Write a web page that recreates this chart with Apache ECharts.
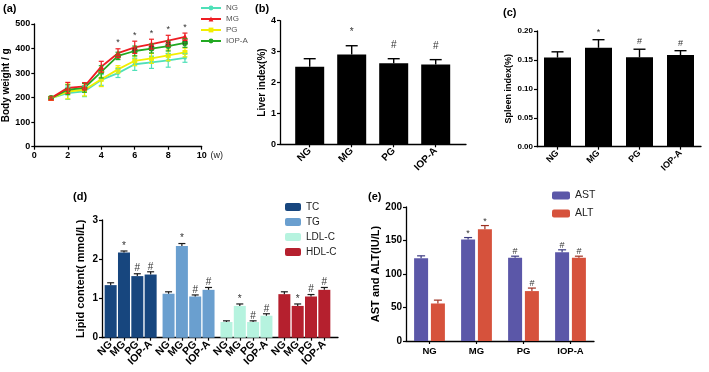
<!DOCTYPE html>
<html>
<head>
<meta charset="utf-8">
<script src="https://cdn.jsdelivr.net/npm/echarts@6/dist/echarts.min.js"></script>
<style>
html, body { margin: 0; padding: 0; background: #fff; }
#main { width: 709px; height: 372px; }
</style>
</head>
<body>
<div id="main"></div>
<script>
// (a) body weight by week
var weeks = [1, 2, 3, 4, 5, 6, 7, 8, 9];
var bwNG = [198, 218, 226, 272, 300, 336, 344, 352, 362];
var bwNGErr = [5, 25, 22, 22, 18, 25, 25, 28, 18];
var bwMG = [198, 240, 246, 326, 381, 405, 418, 432, 448];
var bwMGErr = [5, 22, 15, 22, 18, 25, 20, 22, 15];
var bwPG = [197, 225, 232, 275, 315, 350, 360, 372, 384];
var bwPGErr = [5, 30, 25, 30, 15, 20, 20, 22, 18];
var bwIOP = [198, 232, 240, 305, 370, 390, 400, 410, 423];
var bwIOPErr = [5, 20, 18, 25, 15, 20, 18, 20, 18];
var bwMarkMG = ['', '', '', '', '*', '*', '*', '*', '*'];
var bwMarkPG = ['', '', '', '', '', '#', '#', '#', '#'];

// groups shared by (b)-(e)
var groups = ['NG', 'MG', 'PG', 'IOP-A'];
var groupMarks = ['', '*', '#', '#'];

// (b) liver index
var liver = [2.51, 2.91, 2.62, 2.58];
var liverErr = [0.26, 0.28, 0.15, 0.16];

// (c) spleen index
var spleen = [0.154, 0.171, 0.1545, 0.1585];
var spleenErr = [0.010, 0.014, 0.014, 0.0075];

// (d) lipid content
var lipidNames = ['TC', 'TG', 'LDL-C', 'HDL-C'];
var lipidColors = ['#17467e', '#6a9fcf', '#b6f3df', '#b5202e'];
var lipidVals = [
    [1.34, 2.17, 1.57, 1.61],
    [1.12, 2.34, 1.05, 1.22],
    [0.40, 0.81, 0.40, 0.56],
    [1.11, 0.81, 1.05, 1.22]
];
var lipidErrs = [
    [0.06, 0.04, 0.06, 0.07],
    [0.05, 0.06, 0.04, 0.06],
    [0.03, 0.05, 0.03, 0.05],
    [0.06, 0.05, 0.05, 0.06]
];

// (e) AST / ALT
var ast = [123.6, 151.4, 124.1, 132.6];
var astErr = [3.5, 3, 2.5, 3.5];
var alt = [56, 166.8, 74.5, 124.1];
var altErr = [5, 5.5, 4.5, 2.5];

var FONT = '"Liberation Sans", Arial, sans-serif';
var tickLab = { color: '#000', fontWeight: 'bold', fontSize: 9, fontFamily: FONT, margin: 4 };
var axLine = { show: true, lineStyle: { color: '#000', width: 1.3 } };
var axTick = { show: true, inside: false, length: 3, lineStyle: { color: '#000', width: 1.2 } };
var nameStyle = { color: '#000', fontWeight: 'bold', fontSize: 10, fontFamily: FONT };

function errSeries(xi, yi, xs, vals, errs, marks, color, opt) {
    opt = opt || {};
    return {
        type: 'custom', xAxisIndex: xi, yAxisIndex: yi, z: 5, silent: true,
        data: xs.map(function (x, i) { return [x, vals[i], errs[i]]; }),
        renderItem: function (params, api) {
            var x = api.value(0), v = api.value(1), e = api.value(2);
            var dx = 0;
            if (opt.slot != null) {
                dx = api.barLayout({ barWidth: opt.barWidth, barGap: opt.barGap, count: opt.count })[opt.slot].offsetCenter;
            }
            var top = api.coord([x, v + e]);
            var bot = api.coord([x, opt.both ? v - e : v]);
            var cx = top[0] + dx, w = (opt.cap || 6) / 2;
            var st = { stroke: color, lineWidth: opt.lw || 1.2 };
            var kids = [
                { type: 'line', shape: { x1: cx, y1: bot[1], x2: cx, y2: top[1] }, style: st },
                { type: 'line', shape: { x1: cx - w, y1: top[1], x2: cx + w, y2: top[1] }, style: st }
            ];
            if (opt.both) {
                kids.push({ type: 'line', shape: { x1: cx - w, y1: bot[1], x2: cx + w, y2: bot[1] }, style: st });
            }
            var m = marks && marks[params.dataIndex];
            if (m) {
                kids.push({
                    type: 'text',
                    style: {
                        text: m, x: cx, y: top[1] - (opt.markOff || 6),
                        align: 'center', verticalAlign: 'middle',
                        fill: '#333', font: (opt.markSize || 9) + 'px ' + FONT
                    }
                });
            }
            return { type: 'group', children: kids };
        }
    };
}

function lineSeries(name, vals, color, symbol, size) {
    return {
        name: name, type: 'line', xAxisIndex: 0, yAxisIndex: 0,
        data: weeks.map(function (w, i) { return [w, vals[i]]; }),
        symbol: symbol, symbolSize: size,
        lineStyle: { color: color, width: 1.8 },
        itemStyle: { color: color },
        z: 3
    };
}

function hiddenY(gi, max) {
    return { type: 'value', gridIndex: gi, min: 0, max: max, show: false };
}

function frameX(gi) {
    return {
        type: 'value', gridIndex: gi, min: 0, max: 1,
        axisLine: axLine, axisTick: { show: false }, axisLabel: { show: false }, splitLine: { show: false }
    };
}

function catX(gi, rotate, showLine, size) {
    return {
        type: 'category', gridIndex: gi, data: groups,
        axisLine: showLine ? axLine : { show: false },
        axisTick: { show: true, alignWithLabel: true, length: 3, lineStyle: { color: '#000', width: 1.2 } },
        axisLabel: Object.assign({}, tickLab, { rotate: rotate, interval: 0, margin: 5, fontSize: size })
    };
}

var chart = echarts.init(document.getElementById('main'));

var grids = [
    { left: 34.3, top: 24, width: 167.4, height: 122.7 },     // a
    { left: 280, top: 20.7, width: 186, height: 123.6 },      // b frame
    { left: 288.7, top: 20.7, width: 168, height: 123.6 },    // b bars
    { left: 537, top: 31, width: 164, height: 115.7 },        // c
    { left: 102, top: 220, width: 236, height: 117.7 }        // d frame
];
for (var k = 0; k < 4; k++) {
    grids.push({ left: 104 + 57.9 * k, top: 220, width: 53.3, height: 117.7 }); // d bars
}
grids.push({ left: 406, top: 207, width: 188, height: 134 });  // e
grids.forEach(function (g) { g.outerBoundsMode = 'none'; g.containLabel = false; });

var xAxes = [
    {
        type: 'value', gridIndex: 0, min: 0, max: 10, interval: 2,
        axisLine: axLine, axisTick: axTick, axisLabel: tickLab, splitLine: { show: false },
        name: '(w)', nameLocation: 'end', nameGap: 5,
        nameTextStyle: { color: '#222', fontSize: 9, fontFamily: FONT, verticalAlign: 'top', padding: [4, 0, 0, 0] }
    },
    frameX(1),
    catX(2, 45, false, 10),
    catX(3, 45, true, 9),
    frameX(4)
];
for (k = 0; k < 4; k++) xAxes.push(catX(5 + k, 45, false, 10.5));
xAxes.push(catX(9, 0, true, 9.5));

var yAxes = [
    {
        type: 'value', gridIndex: 0, min: 0, max: 500, interval: 100,
        axisLine: axLine, axisTick: axTick, axisLabel: tickLab, splitLine: { show: false },
        name: 'Body weight / g', nameLocation: 'middle', nameGap: 18, nameTextStyle: nameStyle
    },
    {
        type: 'value', gridIndex: 1, min: 0, max: 4, interval: 1,
        axisLine: axLine, axisTick: axTick, axisLabel: tickLab, splitLine: { show: false },
        name: 'Liver index(%)', nameLocation: 'middle', nameGap: 12, nameTextStyle: nameStyle
    },
    hiddenY(2, 4),
    {
        type: 'value', gridIndex: 3, min: 0, max: 0.2, interval: 0.05,
        axisLine: axLine, axisTick: axTick, splitLine: { show: false },
        axisLabel: Object.assign({}, tickLab, { fontSize: 8, formatter: function (v) { return v.toFixed(2); } }),
        name: 'Spleen index(%)', nameLocation: 'middle', nameGap: 24, nameTextStyle: Object.assign({}, nameStyle, { fontSize: 9 })
    },
    {
        type: 'value', gridIndex: 4, min: 0, max: 3, interval: 1,
        axisLine: axLine, axisTick: axTick, axisLabel: Object.assign({}, tickLab, { fontSize: 10 }), splitLine: { show: false },
        name: 'Lipid content( mmol/L)', nameLocation: 'middle', nameGap: 16, nameTextStyle: Object.assign({}, nameStyle, { fontSize: 11 })
    }
];
for (k = 0; k < 4; k++) yAxes.push(hiddenY(5 + k, 3));
yAxes.push({
    type: 'value', gridIndex: 9, min: 0, max: 200, interval: 50,
    axisLine: axLine, axisTick: axTick, axisLabel: Object.assign({}, tickLab, { fontSize: 10 }), splitLine: { show: false },
    name: 'AST and ALT(IU/L)', nameLocation: 'middle', nameGap: 25, nameTextStyle: Object.assign({}, nameStyle, { fontSize: 11 })
});

var series = [
    lineSeries('NG', bwNG, '#4fe0b8', 'circle', 4),
    lineSeries('PG', bwPG, '#f2ee00', 'rect', 5),
    lineSeries('IOP-A', bwIOP, '#22a922', 'circle', 6),
    lineSeries('MG', bwMG, '#ee1d23', 'triangle', 6),
    errSeries(0, 0, weeks, bwNG, bwNGErr, null, '#4fe0b8', { both: true, cap: 5 }),
    errSeries(0, 0, weeks, bwPG, bwPGErr, bwMarkPG, '#f2ee00', { both: true, cap: 5, markOff: 5 }),
    errSeries(0, 0, weeks, bwIOP, bwIOPErr, null, '#22a922', { both: true, cap: 5 }),
    errSeries(0, 0, weeks, bwMG, bwMGErr, bwMarkMG, '#ee1d23', { both: true, cap: 5, markOff: 6 }),
    // (b)
    { type: 'bar', name: 'Liver index', xAxisIndex: 2, yAxisIndex: 2, data: liver, barWidth: 29, itemStyle: { color: '#000' } },
    errSeries(2, 2, groups, liver, liverErr, groupMarks, '#000', { cap: 12, markOff: 13, lw: 1.4, markSize: 10 }),
    // (c)
    { type: 'bar', name: 'Spleen index', xAxisIndex: 3, yAxisIndex: 3, data: spleen, barWidth: 27, itemStyle: { color: '#000' } },
    errSeries(3, 3, groups, spleen, spleenErr, groupMarks, '#000', { cap: 12, markOff: 7.5, lw: 1.4 })
];
// (d)
lipidNames.forEach(function (n, k) {
    series.push({
        type: 'bar', name: n, xAxisIndex: 5 + k, yAxisIndex: 5 + k,
        data: lipidVals[k], barWidth: 12, itemStyle: { color: lipidColors[k] }
    });
    series.push(errSeries(5 + k, 5 + k, groups, lipidVals[k], lipidErrs[k], groupMarks, '#1b1b1b', { cap: 7, markOff: 5, markSize: 10 }));
});
// (e)
series.push({ type: 'bar', name: 'AST', xAxisIndex: 9, yAxisIndex: 9, data: ast, barWidth: 14, barGap: '20%', itemStyle: { color: '#5b57a8' } });
series.push({ type: 'bar', name: 'ALT', xAxisIndex: 9, yAxisIndex: 9, data: alt, barWidth: 14, barGap: '20%', itemStyle: { color: '#d6523c' } });
series.push(errSeries(9, 9, groups, ast, astErr, groupMarks, '#3c3a80', { cap: 8, markOff: 4.5, slot: 0, count: 2, barWidth: 14, barGap: '20%' }));
series.push(errSeries(9, 9, groups, alt, altErr, groupMarks, '#9e3020', { cap: 8, markOff: 4.5, slot: 1, count: 2, barWidth: 14, barGap: '20%' }));

var panelTitle = function (t, l, tp) {
    return { text: t, left: l, top: tp, padding: 0, textStyle: { color: '#000', fontSize: 11, fontWeight: 'bold', fontFamily: FONT } };
};

var option = {
    backgroundColor: '#fff',
    animation: false,
    title: [
        panelTitle('(a)', 3, 3),
        panelTitle('(b)', 255, 3),
        panelTitle('(c)', 503, 7),
        panelTitle('(d)', 73, 191),
        panelTitle('(e)', 368, 191)
    ],
    legend: [
        {
            data: ['NG', 'MG', 'PG', 'IOP-A'], orient: 'vertical', left: 200, top: 4,
            itemWidth: 20, itemHeight: 6, itemGap: 3, padding: 0,
            textStyle: { color: '#555', fontSize: 8, fontFamily: FONT, lineHeight: 8 }
        },
        {
            data: lipidNames, orient: 'vertical', left: 285, top: 202,
            itemWidth: 16, itemHeight: 8, itemGap: 5, padding: 0,
            textStyle: { color: '#222', fontSize: 10, fontFamily: FONT }
        },
        {
            data: ['AST', 'ALT'], orient: 'vertical', left: 552, top: 190,
            itemWidth: 18, itemHeight: 8, itemGap: 7, padding: 0,
            textStyle: { color: '#222', fontSize: 10.5, fontFamily: FONT }
        }
    ],
    grid: grids,
    xAxis: xAxes,
    yAxis: yAxes,
    series: series
};

chart.setOption(option);
window.addEventListener('resize', function () { chart.resize(); });
</script>
</body>
</html>
